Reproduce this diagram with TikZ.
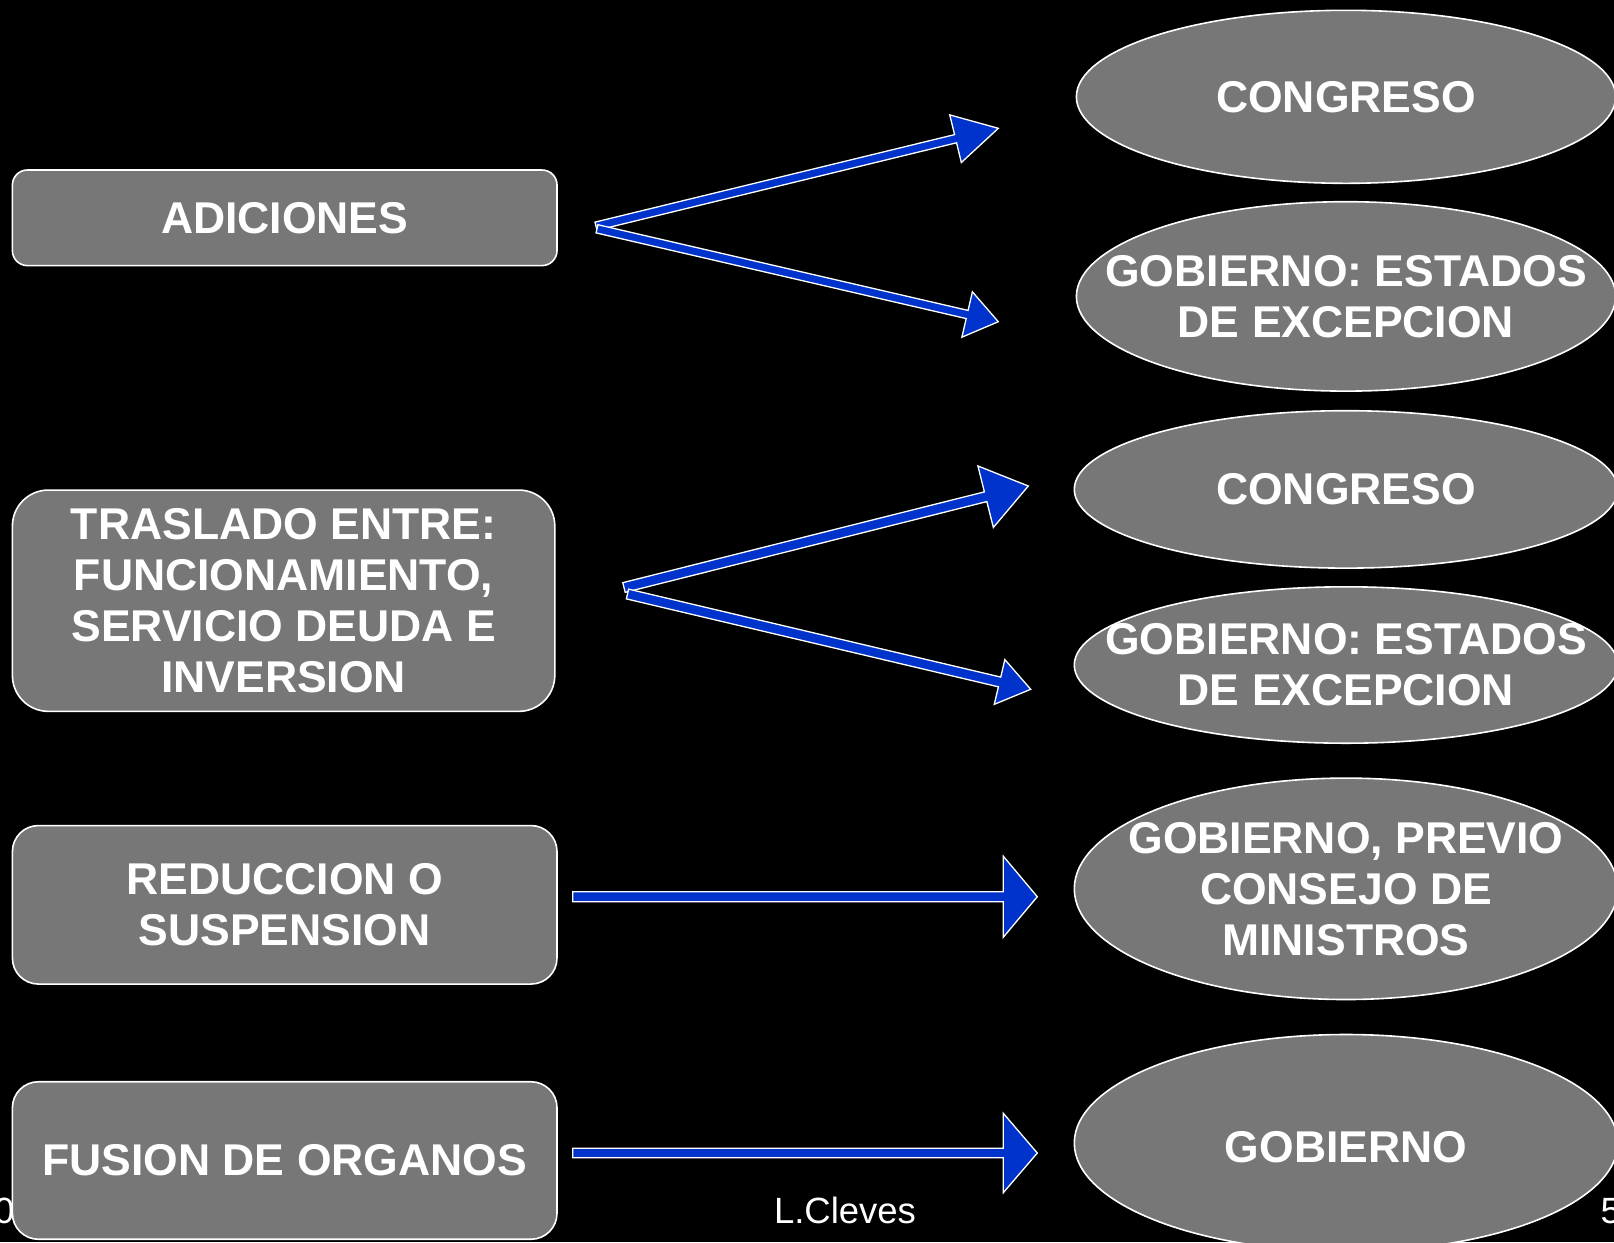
\documentclass[tikz,border=0pt]{standalone}
\usepackage{fontspec}
\setmainfont{Liberation Sans}
\usetikzlibrary{calc,shapes.geometric}
\definecolor{boxgray}{RGB}{119,119,119}
\definecolor{arrblue}{RGB}{0,51,204}
\tikzset{
  lbox/.style={draw=white, line width=1.6bp, fill=boxgray, rectangle, inner sep=0pt},
  ellbox/.style={draw=white, line width=1.6bp, fill=boxgray, ellipse, inner sep=0pt},
  lbl/.style={text=white, align=center, inner sep=0pt,
    font=\fontsize{44.5bp}{51bp}\selectfont\bfseries},
  foot/.style={text=white, inner sep=0pt, font=\fontsize{36.5bp}{40bp}\selectfont},
  blockarr/.style={draw=white, line width=1.3bp, fill=arrblue, line join=miter}
}
% #1 start, #2 tip, #3 half shaft width, #4 half head width, #5 head length
\newcommand\blockarrow[5]{%
  \coordinate (hb) at ($(#2)!#5!(#1)$);
  \filldraw[blockarr]
    ($(#1)!#3!90:(#2)$) -- ($(hb)!#3!-90:(#1)$) -- ($(hb)!#4!-90:(#1)$) -- (#2) --
    ($(hb)!#4!90:(#1)$) -- ($(hb)!#3!90:(#1)$) -- ($(#1)!#3!-90:(#2)$) -- cycle;
}
\begin{document}
\begin{tikzpicture}[x=1bp,y=-1bp]
\useasboundingbox (0,0) rectangle (1614,1242);
\clip (0,0) rectangle (1614,1242);
\fill[black] (0,0) rectangle (1614,1242);

% left boxes
\node[lbox, minimum width=544.6bp, minimum height=95.6bp, rounded corners=15bp] (adic) at (284.7,217.8) {};
\node[lbl] at (adic.center) {ADICIONES};
\node[lbox, minimum width=542.4bp, minimum height=221.3bp, rounded corners=36bp] (tras) at (283.6,600.7) {};
\node[lbl] at (tras.center) {TRASLADO ENTRE:\\FUNCIONAMIENTO,\\SERVICIO DEUDA E\\INVERSION};
\node[lbox, minimum width=544.6bp, minimum height=158.5bp, rounded corners=26bp] (redu) at (284.7,904.8) {};
\node[lbl] at (redu.center) {REDUCCION O\\SUSPENSION};
\node[lbox, minimum width=544.6bp, minimum height=157.5bp, rounded corners=26bp] (fusi) at (284.7,1160.5) {};
\node[lbl] at (fusi.center) {FUSION DE ORGANOS};

% right ellipses
\node[ellbox, minimum width=539.2bp, minimum height=173bp] (cong1) at (1346,96.8) {};
\node[lbl] at (cong1.center) {CONGRESO};
\node[ellbox, minimum width=539.2bp, minimum height=189.4bp] (gobe1) at (1346,296.4) {};
\node[lbl] at (gobe1.center) {GOBIERNO: ESTADOS\\DE EXCEPCION};
\node[ellbox, minimum width=543.4bp, minimum height=157.4bp] (cong2) at (1346,489.4) {};
\node[lbl] at (cong2.center) {CONGRESO};
\node[ellbox, minimum width=543.4bp, minimum height=156.4bp] (gobe2) at (1346,665) {};
\node[lbl] at (gobe2.center) {GOBIERNO: ESTADOS\\DE EXCEPCION};
\node[ellbox, minimum width=543.4bp, minimum height=221.4bp] (gobp) at (1346,888.8) {};
\node[lbl] at (gobp.center) {GOBIERNO, PREVIO\\CONSEJO DE\\MINISTROS};
\node[ellbox, minimum width=543.4bp, minimum height=217bp] (gob) at (1346,1143) {};
\node[lbl] at ($(gob.center)+(0,4.5)$) {GOBIERNO};

% arrow end points
\coordinate (s1) at (596,226.2);
\coordinate (e1) at (998.3,128.3);
\coordinate (s2) at (597,228.8);
\coordinate (e2) at (998.3,321.7);
\coordinate (s3) at (624,587.5);
\coordinate (e3) at (1028.3,486);
\coordinate (s4) at (627.5,594);
\coordinate (e4) at (1030.7,689.3);
\coordinate (s5) at (572.7,896.7);
\coordinate (e5) at (1037.3,896.7);
\coordinate (s6) at (572.7,1153);
\coordinate (e6) at (1037.3,1153);

\blockarrow{s1}{e1}{4.2bp}{24.5bp}{44bp}
\blockarrow{s2}{e2}{4.2bp}{23.3bp}{32bp}
\blockarrow{s3}{e3}{5bp}{31.7bp}{44bp}
\blockarrow{s4}{e4}{5bp}{23bp}{32bp}
\blockarrow{s5}{e5}{5bp}{40.5bp}{34bp}
\blockarrow{s6}{e6}{4.8bp}{39.7bp}{34bp}

% footer
\node[foot, anchor=base] (author) at (845,1223) {L.Cleves};
\node[foot, anchor=base east] (date) at (14.5,1223) {0};
\node[foot, anchor=base west] (page) at (1600.5,1223) {5};
\end{tikzpicture}
\end{document}
